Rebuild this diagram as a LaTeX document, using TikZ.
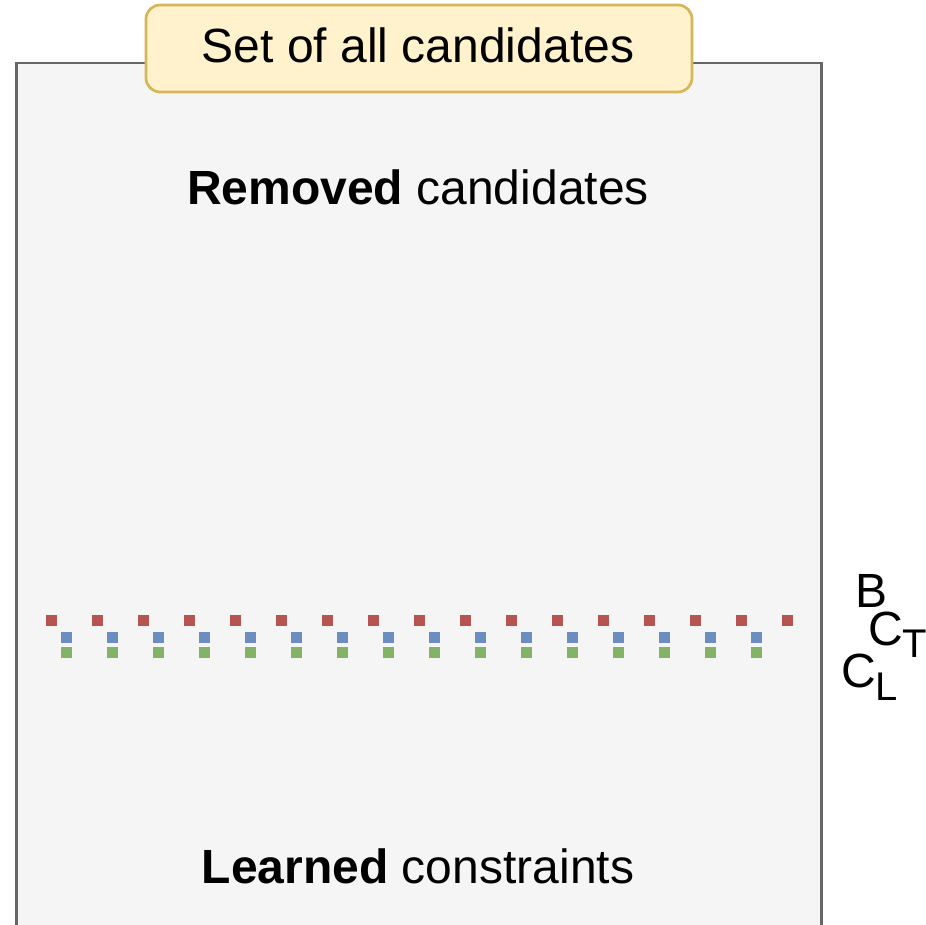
\documentclass[tikz,border=0pt]{standalone}
\usepackage{fontspec}
\setmainfont{Liberation Sans}
\definecolor{boxfill}{HTML}{F5F5F5}
\definecolor{boxline}{HTML}{666666}
\definecolor{tagfill}{HTML}{FFF2CC}
\definecolor{tagline}{HTML}{D6B656}
\definecolor{dotred}{HTML}{B85450}
\definecolor{dotblue}{HTML}{6C8EBF}
\definecolor{dotgreen}{HTML}{82B366}
\tikzset{
  big/.style={font=\fontsize{48}{56}\selectfont, inner sep=0pt, anchor=base},
  sidelab/.style={big, anchor=base west, text height=34pt, text depth=0pt},
  dotsq/.style={minimum size=11pt, inner sep=0pt, draw=none},
}
\begin{document}
\begin{tikzpicture}[x=1pt,y=-1pt]
\useasboundingbox (0,0) rectangle (926,924);
\clip (0,0) rectangle (926,924);
% outer set
\draw[boxline, fill=boxfill, line width=2.7pt] (16.5,63) rectangle (821.5,940);
% title tag
\node[draw=tagline, fill=tagfill, line width=2.7pt, rounded corners=14pt,
      minimum width=546pt, minimum height=87pt, inner sep=0pt] (tag) at (419,48.5) {};
\node[big] (tagtext) at (418,62) {Set of all candidates};
\node[big] (removed) at (418,204) {\textbf{Removed} candidates};
\node[big] (learned) at (418,883) {\textbf{Learned} constraints};
% dotted rows
\foreach \i in {0,...,16} {
  \node[dotsq, fill=dotred] (r\i) at ({51+46*\i},620.5) {};
}
\foreach \i in {0,...,15} {
  \node[dotsq, fill=dotblue] (b\i) at ({66+46*\i},637.5) {};
  \node[dotsq, fill=dotgreen] (g\i) at ({66+46*\i},652.5) {};
}
% labels
\node[sidelab] (lB) at (855,607) {B};
\node[sidelab] (lCT) at (868,645) {C\raisebox{-12pt}{\fontsize{40}{48}\selectfont T}};
\node[sidelab] (lCL) at (841,687) {C\raisebox{-13pt}{\fontsize{40}{48}\selectfont L}};
\end{tikzpicture}
\end{document}
